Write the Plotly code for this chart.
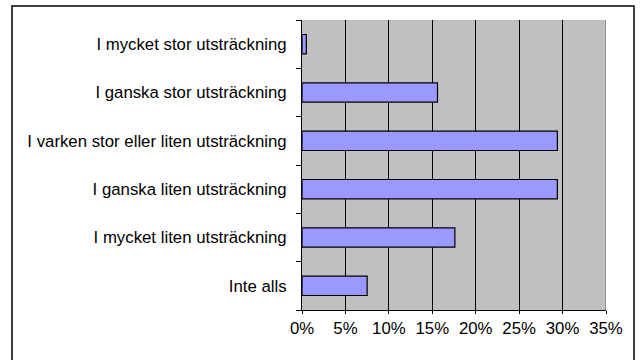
import plotly.graph_objects as go

categories = [
    "Inte alls",
    "I mycket liten utsträckning",
    "I ganska liten utsträckning",
    "I varken stor eller liten utsträckning",
    "I ganska stor utsträckning",
    "I mycket stor utsträckning",
]
values = [0.075, 0.176, 0.294, 0.294, 0.156, 0.005]
tick_vals = [0, 0.05, 0.10, 0.15, 0.20, 0.25, 0.30, 0.35]
tick_text = ["0%", "5%", "10%", "15%", "20%", "25%", "30%", "35%"]

fig = go.Figure()
fig.add_trace(go.Bar(
    x=values, y=categories, orientation="h",
    marker=dict(color="#9999FF", line=dict(color="black", width=1.2)),
    width=0.4,
    hoverinfo="skip",
))

font = dict(family="Liberation Sans, Arial, sans-serif", size=16.8, color="black")

fig.update_layout(
    width=640, height=360,
    margin=dict(l=302, r=34, t=20, b=50),
    paper_bgcolor="white",
    plot_bgcolor="#C0C0C0",
    showlegend=False,
    font=font,
    xaxis=dict(
        range=[0, 0.35], tickvals=tick_vals, ticktext=tick_text,
        showgrid=True, gridcolor="black", gridwidth=1,
        zeroline=False, showline=True, linecolor="black", linewidth=1,
        ticks="outside", ticklen=3, tickcolor="black",
        ticklabelstandoff=0, fixedrange=True,
    ),
    yaxis=dict(
        type="category", categoryorder="array", categoryarray=categories,
        showgrid=False, zeroline=False, showline=True, linecolor="black", linewidth=1,
        ticks="outside", ticklen=5, tickcolor="black", tickson="boundaries",
        ticklabelstandoff=11, fixedrange=True,
    ),
    shapes=[
        dict(type="line", xref="x", yref="paper", x0=0.35, x1=0.35, y0=0, y1=1,
             line=dict(color="#808080", width=1.5)),
        dict(type="rect", xref="paper", yref="paper",
             x0=(12 - 302) / 304, x1=(634 - 302) / 304,
             y0=(310 - 420) / 290, y1=(310 - 6) / 290,
             line=dict(color="black", width=1.5), fillcolor="rgba(0,0,0,0)", layer="below"),
    ],
)

fig.write_html("out.html")
